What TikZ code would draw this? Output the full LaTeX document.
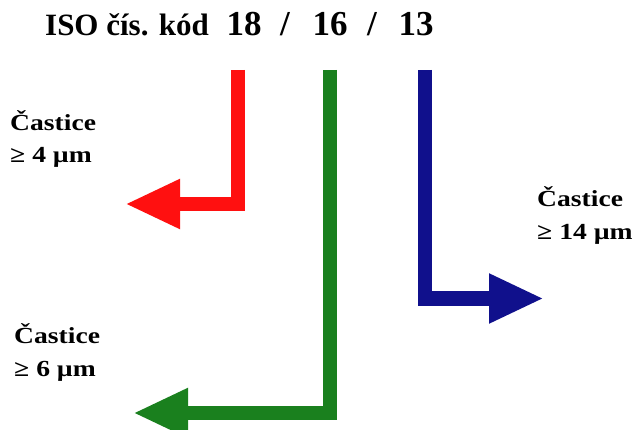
\documentclass[tikz,border=0pt]{standalone}
\usepackage{fontspec}
\setmainfont{Liberation Serif}
\usetikzlibrary{arrows.meta}
\definecolor{ared}{RGB}{255,16,16}
\definecolor{agreen}{RGB}{26,128,30}
\definecolor{ablue}{RGB}{16,16,140}
\tikzset{
  lbl/.style={font=\bfseries\fontsize{23}{27}\selectfont, align=left, inner sep=0pt, anchor=base west, xscale=1.2},
  num/.style={font=\bfseries\fontsize{35}{40}\selectfont, inner sep=0pt, anchor=base},
  bigarrow/.style={line width=14pt, line join=miter, -{Triangle[length=55pt,width=46pt]}}
}
\begin{document}
\begin{tikzpicture}[x=1pt,y=-1pt]
\useasboundingbox (0,0) rectangle (637,430);
\clip (0,0) rectangle (637,430);
\node[font=\bfseries\fontsize{31}{34}\selectfont, inner sep=0pt, anchor=base west] (title) at (45,36) {ISO čís. kód};
\node[num] (n1) at (244,36) {18};
\node[num] (s1) at (285,36) {/};
\node[num] (n2) at (330,36) {16};
\node[num] (s2) at (372,36) {/};
\node[num] (n3) at (416,36) {13};
\coordinate (r0) at (237.5,70);
\coordinate (g0) at (330,70);
\coordinate (b0) at (425,70);
\coordinate (rt) at (125,204);
\coordinate (gt) at (133,413);
\coordinate (bt) at (544,298.5);
\draw[bigarrow, ared] (r0) |- (rt);
\draw[bigarrow, agreen] (g0) |- (gt);
\draw[bigarrow, ablue] (b0) |- (bt);
\node[lbl] (l1a) at (10,131) {Častice};
\node[lbl] (l1b) at (10,163) {≥ 4 µm};
\node[lbl] (l2a) at (14,343) {Častice};
\node[lbl] (l2b) at (14,376) {≥ 6 µm};
\node[lbl] (l3a) at (537,207) {Častice};
\node[lbl] (l3b) at (537,240) {≥ 14 µm};
\end{tikzpicture}
\end{document}
